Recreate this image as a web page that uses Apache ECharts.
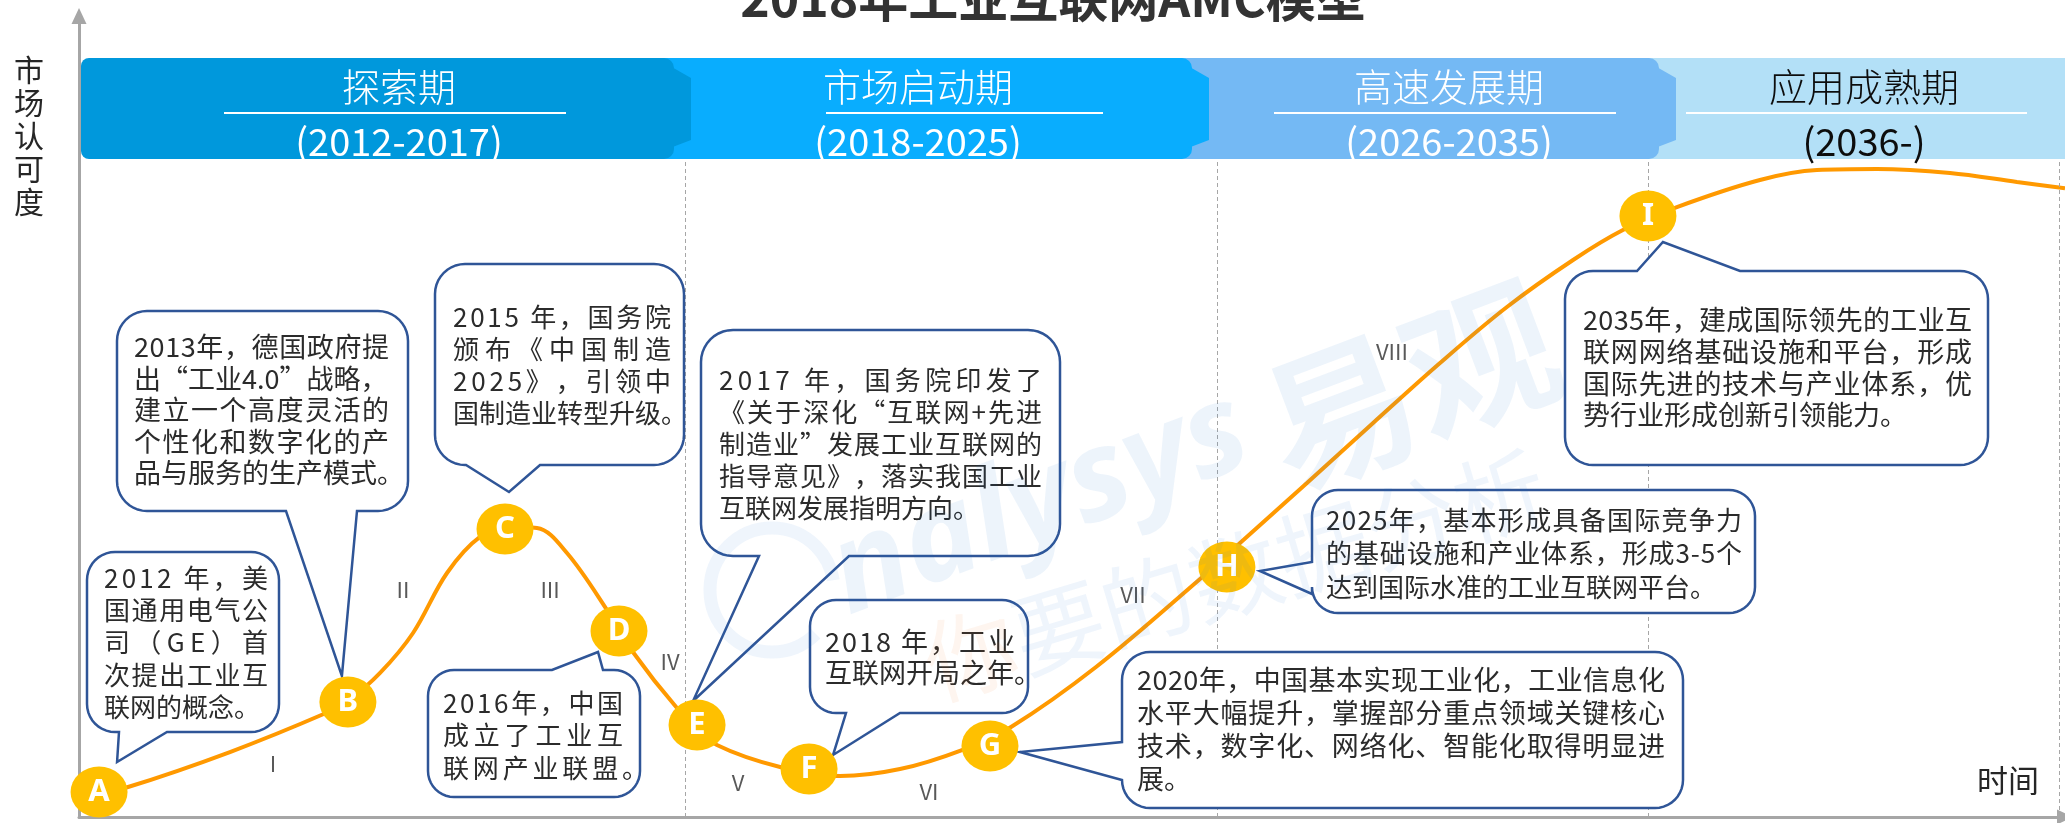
<!DOCTYPE html>
<html>
<head>
<meta charset="utf-8">
<title>2018年工业互联网AMC模型</title>
<script src="https://cdn.jsdelivr.net/npm/echarts@6/dist/echarts.min.js"></script>
<style>
  html, body { margin: 0; padding: 0; background: #fff; }
  #chart { width: 2065px; height: 823px; }
</style>
</head>
<body>
<div id="chart"></div>
<script>
// 曲线：横轴为相对时间(0-100)，纵轴为市场认可度(0-100)
var curveX = [1.01, 2.47, 7.60, 12.44, 13.54, 15.16, 16.82, 18.53, 20.19, 21.70, 23.06, 24.57, 26.59, 27.89,
  30.11, 31.12, 32.12, 35.30, 38.32, 41.34, 44.46, 46.93, 51.21, 56.39, 58.46, 61.83, 65.16, 68.53,
  71.90, 75.23, 77.74, 80.46, 84.64, 87.51, 90.53, 94.21, 97.58, 100];
var curveY = [3.12, 3.75, 8.11, 12.98, 14.48, 17.98, 22.97, 30.46, 34.96, 36.20, 36.08, 32.96, 25.84, 20.60,
  13.61, 11.36, 8.99, 6.24, 5.12, 5.99, 8.36, 11.24, 18.73, 29.59, 34.21, 41.70, 49.19, 56.68,
  63.67, 69.54, 73.28, 76.15, 79.53, 80.77, 80.90, 80.40, 79.28, 78.50];

// 关键节点
var pointNames = ['A', 'B', 'C', 'D', 'E', 'F', 'G', 'H', 'I'];
var pointX = [1.01, 13.54, 21.45, 27.19, 31.12, 36.76, 45.87, 57.80, 79.00];
var pointY = [3.12, 14.36, 35.96, 23.22, 11.49, 5.99, 8.86, 31.21, 75.03];

// 阶段编号
var stageNames = ['I', 'II', 'III', 'IV', 'V', 'VI', 'VII', 'VIII'];
var stageX = [9.77, 16.31, 23.72, 29.76, 33.18, 42.80, 53.07, 66.11];
var stageY = [6.62, 28.34, 28.34, 19.35, 4.24, 3.12, 27.72, 58.05];

// 四个时期
var phaseNames = ['探索期', '市场启动期', '高速发展期', '应用成熟期'];
var phaseYears = ['(2012-2017)', '(2018-2025)', '(2026-2035)', '(2036-)'];
var phaseEndX = [30.51, 57.30, 79.00, 99.70];
var phaseTop = 82.15;

// 事件说明
var noteLines = [
  ['2012 年，美', '国通用电气公', '司（GE）首', '次提出工业互', '联网的概念。'],
  ['2013年，德国政府提', '出“工业4.0”战略，', '建立一个高度灵活的', '个性化和数字化的产', '品与服务的生产模式。'],
  ['2015 年，国务院', '颁布《中国制造', '2025》，引领中', '国制造业转型升级。'],
  ['2016年，中国', '成立了工业互', '联网产业联盟。'],
  ['2017 年，国务院印发了', '《关于深化“互联网+先进', '制造业”发展工业互联网的', '指导意见》，落实我国工业', '互联网发展指明方向。'],
  ['2018 年，工业', '互联网开局之年。'],
  ['2020年，中国基本实现工业化，工业信息化', '水平大幅提升，掌握部分重点领域关键核心', '技术，数字化、网络化、智能化取得明显进', '展。'],
  ['2025年，基本形成具备国际竞争力', '的基础设施和产业体系，形成3-5个', '达到国际水准的工业互联网平台。'],
  ['2035年，建成国际领先的工业互', '联网网络基础设施和平台，形成', '国际先进的技术与产业体系，优', '势行业形成创新引领能力。']
];

var FONT = 'Noto Sans CJK SC';

// 对话框位置（像素）
var boxes = [
  {x: 87, y: 552, w: 192, h: 180, r: 28, side: 'bottom', b1: 119, b2: 167, dx: 18, dy: -30, size: 26, tx: 104, ty: 578, lh: 32.3, right: 268, just: [1, 1, 1, 1, 0]},
  {x: 117, y: 311, w: 291, h: 200, r: 30, side: 'bottom', b1: 286, b2: 357, dx: -6, dy: -26, size: 27, tx: 134, ty: 347, lh: 31.5, right: 389, just: [1, 0, 1, 1, 0]},
  {x: 435, y: 264, w: 249, h: 201, r: 30, side: 'bottom', b1: 466, b2: 540, dx: 4, dy: -37, size: 26, tx: 453, ty: 317, lh: 32, right: 671, just: [1, 1, 1, 0]},
  {x: 428, y: 670, w: 212, h: 127, r: 26, side: 'top', b1: 552, b2: 603, dx: -21, dy: 21, size: 26, tx: 443, ty: 703, lh: 32.5, right: 623, just: [1, 1, 648]},
  {x: 701, y: 330, w: 359, h: 226, r: 32, side: 'bottom', b1: 759, b2: 849, dx: -4, dy: -24, size: 26, tx: 719, ty: 380, lh: 32, right: 1042, just: [1, 1, 1, 1, 0]},
  {x: 810, y: 600, w: 218, h: 113, r: 26, side: 'bottom', b1: 846, b2: 900, dx: 24, dy: -14, size: 27, tx: 825, ty: 642, lh: 31, right: 1015, just: [1, 0]},
  {x: 1122, y: 652, w: 561, h: 156, r: 28, side: 'left', b1: 742, b2: 780, dx: 30, dy: 6, size: 27, tx: 1137, ty: 680, lh: 33, right: 1665, just: [1, 1, 1, 0]},
  {x: 1312, y: 490, w: 443, h: 123, r: 26, side: 'left', b1: 562, b2: 594, dx: 33, dy: 4, size: 26, tx: 1326, ty: 520, lh: 33.5, right: 1742, just: [1, 1, 0]},
  {x: 1565, y: 271, w: 423, h: 194, r: 28, side: 'top', b1: 1637, b2: 1740, dx: 15, dy: 26, size: 27, tx: 1583, ty: 320, lh: 31.7, right: 1972, just: [1, 1, 1, 0]}
];

// 顶部色带（像素）
var bands = [
  {x0: 81, x1: 674, color: '#0098DC', text: '#ffffff', cx: 399, l0: 224, l1: 566, tab: true},
  {x0: 650, x1: 1192, color: '#09ADFE', text: '#ffffff', cx: 918, l0: 826, l1: 1103, tab: true},
  {x0: 1170, x1: 1659, color: '#74B9F4', text: '#ffffff', cx: 1449, l0: 1274, l1: 1616, tab: true},
  {x0: 1640, x1: 2065, color: '#B3E0F7', text: '#0D0D0D', cx: 1864, l0: 1686, l1: 2027, tab: false}
];

var chartDom = document.getElementById('chart');
var myChart = echarts.init(chartDom);

var option = {
  animation: false,
  grid: { left: 79, right: 0, top: 16, bottom: 6 },
  xAxis: {
    type: 'value', min: 0, max: 100,
    axisLine: { show: true, lineStyle: { color: '#A6A6A6', width: 3 }, symbol: ['none', 'triangle'], symbolSize: [15, 16] },
    axisTick: { show: false }, axisLabel: { show: false }, splitLine: { show: false }
  },
  yAxis: {
    type: 'value', min: 0, max: 100,
    axisLine: { show: true, lineStyle: { color: '#A6A6A6', width: 3 }, symbol: ['none', 'triangle'], symbolSize: [15, 16] },
    axisTick: { show: false }, axisLabel: { show: false }, splitLine: { show: false }
  },
  series: [
    {
      type: 'line',
      z: 2,
      smooth: 0.35,
      showSymbol: false,
      lineStyle: { color: '#FF9900', width: 4 },
      data: curveX.map(function (x, i) { return [x, curveY[i]]; }),
      markLine: {
        silent: true,
        symbol: 'none',
        label: { show: false },
        lineStyle: { color: '#A6A6A6', width: 1, type: [4, 3] },
        data: phaseEndX.map(function (x) { return [{ coord: [x, 0] }, { coord: [x, phaseTop] }]; })
      }
    },
    {
      type: 'scatter',
      z: 3,
      clip: false,
      symbolSize: 2,
      itemStyle: { color: 'rgba(0,0,0,0)', opacity: 1 },
      label: {
        show: true, position: 'inside',
        formatter: function (p) { return stageNames[p.dataIndex]; },
        color: '#595959', fontSize: 22, fontFamily: FONT
      },
      data: stageX.map(function (x, i) { return [x, stageY[i]]; })
    },
    {
      type: 'scatter',
      z: 12,
      clip: false,
      symbol: 'circle',
      symbolSize: [57, 51],
      itemStyle: { color: '#FFC000', opacity: 1 },
      label: {
        show: true, position: 'inside',
        formatter: function (p) { return pointNames[p.dataIndex]; },
        color: '#ffffff', fontSize: 31, fontWeight: 'bold', fontFamily: 'Noto Sans'
      },
      data: pointX.map(function (x, i) { return [x, pointY[i]]; })
    }
  ]
};
myChart.setOption(option);

// 逐字排版（两端对齐）
var measureCtx = document.createElement('canvas').getContext('2d');
function textRow(str, x, y, size, right, z) {
  measureCtx.font = size + 'px ' + FONT;
  var chars = Array.from(str);
  var ws = chars.map(function (c) { return measureCtx.measureText(c).width; });
  var total = ws.reduce(function (a, b) { return a + b; }, 0);
  var gap = (right && chars.length > 1) ? (right - x - total) / (chars.length - 1) : 0;
  var out = [];
  var cx = x;
  chars.forEach(function (c, k) {
    if (c !== ' ') {
      out.push({
        type: 'text', z: z, silent: true,
        style: {
          text: c, x: cx, y: y, fill: '#2B2B2B', fontSize: size, fontFamily: FONT,
          align: 'left', verticalAlign: 'middle', textAlign: 'left', textVerticalAlign: 'middle'
        }
      });
    }
    cx += ws[k] + gap;
  });
  return out;
}

// 带尖角的圆角框
function bubble(b, apex) {
  var x0 = b.x, y0 = b.y, x1 = b.x + b.w, y1 = b.y + b.h, r = b.r, pts = [];
  function arc(cx, cy, a0, a1) {
    for (var k = 0; k <= 10; k++) {
      var a = a0 + (a1 - a0) * k / 10;
      pts.push([cx + r * Math.cos(a), cy + r * Math.sin(a)]);
    }
  }
  arc(x0 + r, y0 + r, Math.PI, 1.5 * Math.PI);
  if (b.side === 'top') pts.push([b.b1, y0], apex, [b.b2, y0]);
  arc(x1 - r, y0 + r, 1.5 * Math.PI, 2 * Math.PI);
  arc(x1 - r, y1 - r, 0, 0.5 * Math.PI);
  if (b.side === 'bottom') pts.push([b.b2, y1], apex, [b.b1, y1]);
  arc(x0 + r, y1 - r, 0.5 * Math.PI, Math.PI);
  if (b.side === 'left') pts.push([x0, b.b2], apex, [x0, b.b1]);
  return pts;
}

function label(text, x, y, size, color, weight, z, extra) {
  var st = {
    text: text, x: x, y: y, fill: color, fontSize: size, fontFamily: FONT, fontWeight: weight || 'normal',
    align: 'center', verticalAlign: 'middle', textAlign: 'center', textVerticalAlign: 'middle'
  };
  if (extra) Object.keys(extra).forEach(function (k) { st[k] = extra[k]; });
  return { type: 'text', z: z, silent: true, style: st };
}

var graphics = [];

// 标题
graphics.push(label('2018年工业互联网AMC模型', 1053, -2, 50, '#333333', 'bold', 24));

// 坐标轴名称
graphics.push(label('市\n场\n认\n可\n度', 29, 136, 30, '#262626', 'normal', 11, { lineHeight: 33 }));
graphics.push(label('时间', 2008, 780, 31, '#262626', 'normal', 11));

// 色带：从后往前画，前一个的尖角压在后一个上
for (var bi = bands.length - 1; bi >= 0; bi--) {
  var bd = bands[bi];
  var zb = 20 + (bands.length - bi);
  var right = bi === bands.length - 1 ? 0 : 10;
  graphics.push({
    type: 'rect', z: zb, silent: true,
    shape: { x: bd.x0, y: 58, width: bd.x1 - bd.x0, height: 101, r: [bi === 0 ? 8 : 0, right, right, bi === 0 ? 8 : 0] },
    style: { fill: bd.color }
  });
  if (bd.tab) {
    graphics.push({
      type: 'polygon', z: zb, silent: true,
      shape: { points: [[bd.x1 - 4, 66], [bd.x1 + 17, 78], [bd.x1 + 17, 140], [bd.x1 - 4, 148]] },
      style: { fill: bd.color }
    });
  }
  graphics.push({
    type: 'line', z: zb, silent: true,
    shape: { x1: bd.l0, y1: 113, x2: bd.l1, y2: 113 },
    style: { stroke: '#ffffff', lineWidth: 2 }
  });
  graphics.push(label(phaseNames[bi], bd.cx, 87, 38, bd.text, 300, zb));
  graphics.push(label(phaseYears[bi], bd.cx, 142, 38, bd.text, 'normal', zb));
}

// 说明框
boxes.forEach(function (b, i) {
  var p = myChart.convertToPixel({ gridIndex: 0 }, [pointX[i], pointY[i]]);
  var apex = [p[0] + b.dx, p[1] + b.dy];
  graphics.push({
    type: 'polygon', z: 10, silent: true,
    shape: { points: bubble(b, apex) },
    style: { fill: '#ffffff', stroke: '#2F5597', lineWidth: 2.5 }
  });
  noteLines[i].forEach(function (line, k) {
    var j = b.just[k];
    var r = j === 1 ? b.right : (j || null);
    graphics = graphics.concat(textRow(line, b.tx, b.ty + k * b.lh, b.size, r, 11));
  });
});

// 水印
graphics.push({
  type: 'arc', z: 30, silent: true,
  shape: { cx: 772, cy: 590, r: 62, startAngle: 0.25 * Math.PI, endAngle: 1.95 * Math.PI },
  style: { stroke: '#1E78D2', lineWidth: 13, fill: 'none', opacity: 0.07 }
});
graphics.push({
  type: 'text', z: 30, silent: true, x: 1040, y: 505, rotation: 0.36,
  style: { text: 'nalysys', fill: '#1E78D2', opacity: 0.08, fontSize: 125, fontStyle: 'italic', fontWeight: 'bold', fontFamily: 'Noto Sans',
    align: 'center', verticalAlign: 'middle', textAlign: 'center', textVerticalAlign: 'middle' }
});
graphics.push({
  type: 'text', z: 30, silent: true, x: 1410, y: 385, rotation: 0.36,
  style: { text: '易观', fill: '#1E78D2', opacity: 0.08, fontSize: 150, fontWeight: 'bold', fontFamily: FONT,
    align: 'center', verticalAlign: 'middle', textAlign: 'center', textVerticalAlign: 'middle' }
});
graphics.push({
  type: 'text', z: 30, silent: true, x: 1235, y: 575, rotation: 0.29,
  style: { text: '{o|你}要的数据分析', fill: '#1E78D2', opacity: 0.07, fontSize: 92, fontFamily: FONT,
    rich: { o: { fill: '#F07820', fontSize: 92, fontFamily: FONT } },
    align: 'center', verticalAlign: 'middle', textAlign: 'center', textVerticalAlign: 'middle' }
});

myChart.setOption({ graphic: graphics });
</script>
</body>
</html>
